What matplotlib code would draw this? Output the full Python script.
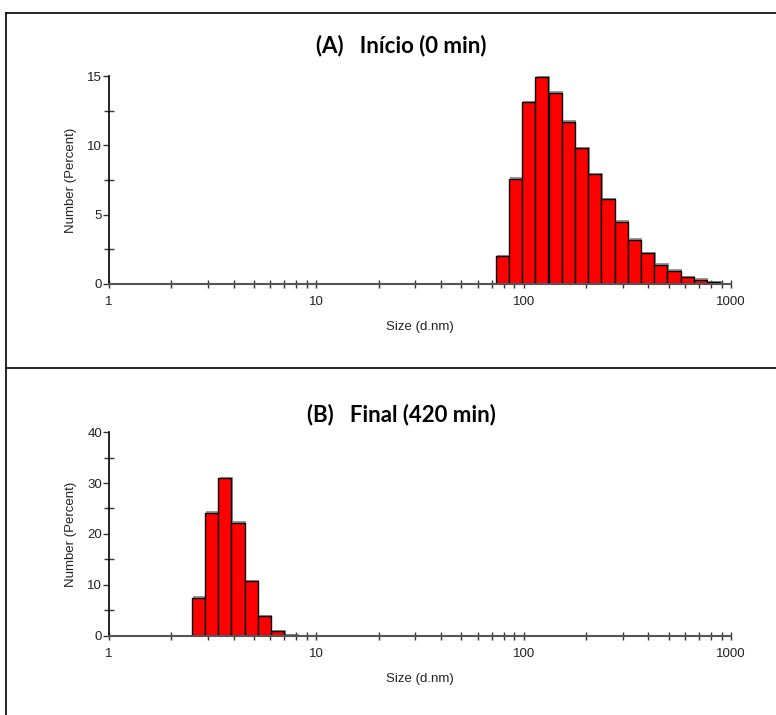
import numpy as np
import matplotlib.pyplot as plt
import matplotlib.patheffects as pe
from matplotlib.lines import Line2D
from matplotlib.ticker import LogLocator, FixedLocator, NullFormatter

# Size classes (d.nm) and number distribution (%)
sizes_a = [78.82, 91.28, 105.7, 122.4, 141.8, 164.2, 190.1, 220.2, 255.0,
           295.3, 342.0, 396.1, 458.7, 531.2, 615.1, 712.4, 825.0]
number_a = [2.0, 7.6, 13.1, 14.9, 13.8, 11.7, 9.8, 7.9, 6.1,
            4.5, 3.2, 2.2, 1.4, 0.95, 0.5, 0.3, 0.12]

sizes_b = [2.696, 3.122, 3.615, 4.187, 4.849, 5.615, 6.503, 7.531]
number_b = [7.5, 24.2, 30.9, 22.2, 10.7, 3.9, 0.9, 0.2]

titles = ['(A)   Início (0 min)', '(B)   Final (420 min)']
xticks = [1, 10, 100, 1000]

plt.rcParams['font.family'] = ['Liberation Sans', 'DejaVu Sans']

fig = plt.figure(figsize=(7.76, 7.15), dpi=100)


def draw_panel(rect, sizes, number, ymax, ystep, title, title_y):
    ax = fig.add_axes(rect)
    sizes = np.array(sizes)
    step = np.sqrt(sizes[1] / sizes[0])
    left = sizes / step
    width = sizes * step - left
    bars = ax.bar(left, number, width=width, align='edge', color='#ff0000',
                  edgecolor='black', linewidth=1.0, zorder=3)
    for b in bars:
        b.set_path_effects([pe.SimplePatchShadow(offset=(1, 1), shadow_rgbFace='#808080', alpha=0.8),
                            pe.Normal()])
    ax.set_xscale('log')
    ax.set_xlim(1, 1000)
    ax.set_ylim(0, ymax)
    ax.set_xticks(xticks)
    ax.set_xticklabels([str(t) for t in xticks])
    ax.xaxis.set_minor_locator(LogLocator(base=10, subs=np.arange(2, 10)))
    ax.xaxis.set_minor_formatter(NullFormatter())
    ax.set_yticks(np.arange(0, ymax + 1, ystep))
    ax.yaxis.set_minor_locator(FixedLocator(np.arange(ystep / 2, ymax, ystep)))
    for s in ['top', 'right']:
        ax.spines[s].set_visible(False)
    ax.spines['left'].set_color('black')
    ax.spines['left'].set_linewidth(1.2)
    ax.spines['bottom'].set_color('#555555')
    ax.spines['bottom'].set_linewidth(1.5)
    ax.spines['bottom'].set_zorder(4)
    ax.tick_params(axis='x', which='both', direction='inout', length=6, width=1,
                   color='#333333', labelsize=9.5, labelcolor='#222222', pad=6)
    ax.tick_params(axis='y', which='major', direction='out', length=4, width=1,
                   color='#333333', labelsize=9.5, labelcolor='#222222', pad=1)
    ax.tick_params(axis='y', which='minor', direction='inout', length=7, width=1, color='#333333')
    ax.set_xlabel('Size (d.nm)', fontsize=9.5, color='#222222', labelpad=9)
    ax.set_ylabel('Number (Percent)', fontsize=9.5, color='#222222', labelpad=7)
    fig.text(0.517, title_y, title, ha='center', va='center', fontsize=16,
             fontweight='bold', family='Lato')
    return ax


draw_panel([0.1405, 0.6028, 0.8015, 0.2909], sizes_a, number_a, 15, 5, titles[0], 0.936)
draw_panel([0.1405, 0.1105, 0.8015, 0.2853], sizes_b, number_b, 40, 10, titles[1], 0.420)

# panel frames
lw = 1.2
fig.add_artist(Line2D([0.0077, 1.0], [0.9818, 0.9818], color='black', lw=lw))
fig.add_artist(Line2D([0.0077, 0.0077], [0.0, 0.9818], color='black', lw=lw))
fig.add_artist(Line2D([0.0077, 1.0], [0.4853, 0.4853], color='black', lw=lw))

plt.savefig('out.png', dpi=100)
